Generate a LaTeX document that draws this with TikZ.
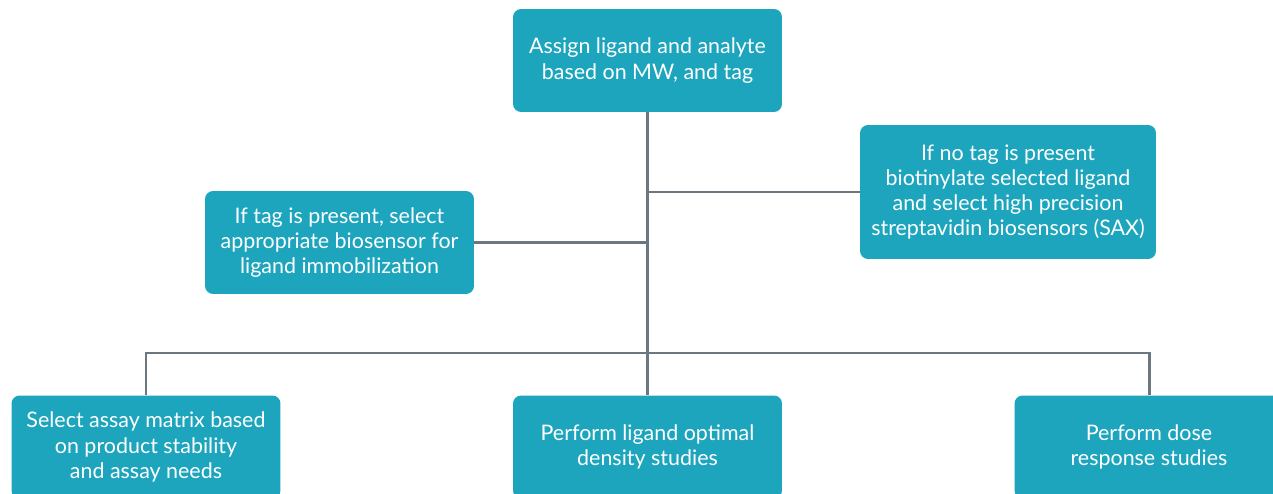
\documentclass[tikz,border=0pt]{standalone}
\usepackage{fontspec}
\setmainfont{Lato}
\definecolor{boxteal}{HTML}{1CA5BD}
\definecolor{linegray}{HTML}{6D7780}
\begin{document}
\begin{tikzpicture}[
  x=0.02cm, y=-0.02cm,
  step_box/.style={fill=boxteal, text=white, rounded corners=0.16cm, align=center,
    font=\fontsize{12.2}{14.4}\selectfont, inner sep=0pt,
    minimum width=5.38cm, minimum height=2.06cm},
  wide_box/.style={step_box, minimum width=5.92cm, minimum height=2.68cm},
  link/.style={draw=linegray, line width=1.7pt}
  ]
	\useasboundingbox (0,0) rectangle (1273,493);
	\clip (0,0) rectangle (1273,493);

	\node[step_box] (assign) at (647.5,60.5) {Assign ligand and analyte\\based on MW, and tag};
	\node[step_box] (tagsel) at (339.5,242.5) {If tag is present, select\\appropriate biosensor for\\ligand immobilization};
	\node[wide_box] (notag) at (1008,192) {If no tag is present\\biotinylate selected ligand\\and select high precision\\streptavidin biosensors (SAX)};

	\node[step_box] (assay) at (146,447) {Select assay matrix based\\on product stability\\and assay needs};
	\node[step_box] (density) at (647.5,447) {Perform ligand optimal\\density studies};
	\node[step_box] (dose) at (1149,447) {Perform dose\\response studies};

	\coordinate (hub) at (647.5,353);

	\draw[link] (assign) -- (hub);
	\draw[link] (notag.west) -- (notag.west -| hub);
	\draw[link] (tagsel.east) -- (tagsel.east -| hub);

	\draw[link] (assay.north) |- (hub) -| (dose.north);
	\draw[link] (hub) -- (density.north);
\end{tikzpicture}
\end{document}
